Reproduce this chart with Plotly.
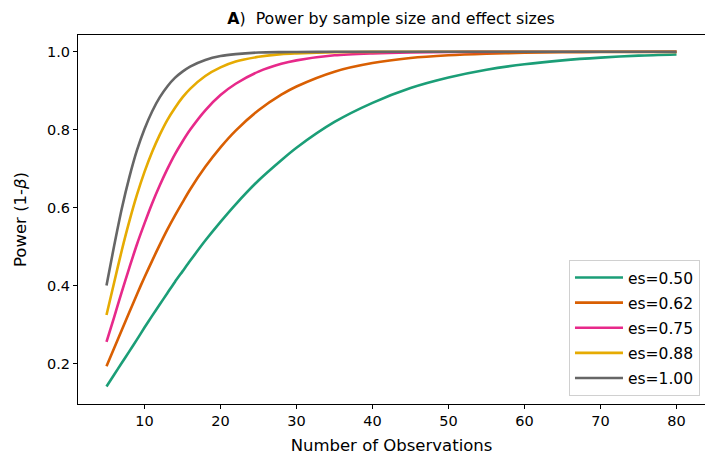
import plotly.graph_objects as go

# Sample sizes (x) and power values
nobs = [5, 6, 7, 8, 9, 10, 11, 12, 13, 14, 15, 16, 18, 20, 22, 25, 28, 30,
        35, 40, 45, 50, 55, 60, 65, 70, 75, 80]

power_050 = [0.142, 0.172, 0.202, 0.232, 0.262, 0.293, 0.323, 0.352, 0.381, 0.410,
             0.437, 0.464, 0.516, 0.564, 0.609, 0.670, 0.722, 0.754,
             0.820, 0.869, 0.907, 0.934, 0.954, 0.968, 0.978, 0.985, 0.990, 0.993]
power_062 = [0.194, 0.240, 0.286, 0.332, 0.378, 0.422, 0.464, 0.505, 0.544, 0.580,
             0.614, 0.647, 0.705, 0.755, 0.798, 0.850, 0.890, 0.911,
             0.949, 0.971, 0.984, 0.991, 0.995, 0.9975, 0.9987, 0.9993, 0.9996, 0.9998]
power_075 = [0.256, 0.319, 0.384, 0.446, 0.506, 0.560, 0.611, 0.657, 0.699, 0.737,
             0.770, 0.800, 0.850, 0.889, 0.918, 0.949, 0.969, 0.978,
             0.991, 0.996, 0.9985, 0.9994, 0.9998, 0.9999, 1.0, 1.0, 1.0, 1.0]
power_088 = [0.325, 0.408, 0.490, 0.565, 0.633, 0.692, 0.743, 0.787, 0.825, 0.856,
             0.883, 0.905, 0.938, 0.960, 0.975, 0.987, 0.994, 0.996,
             0.999, 0.9998, 1.0, 1.0, 1.0, 1.0, 1.0, 1.0, 1.0, 1.0]
power_100 = [0.401, 0.502, 0.597, 0.678, 0.747, 0.802, 0.847, 0.883, 0.911, 0.933,
             0.949, 0.962, 0.979, 0.989, 0.994, 0.998, 0.9992, 0.9996,
             1.0, 1.0, 1.0, 1.0, 1.0, 1.0, 1.0, 1.0, 1.0, 1.0]

labels = ["es=0.50", "es=0.62", "es=0.75", "es=0.88", "es=1.00"]
series = [power_050, power_062, power_075, power_088, power_100]
colors = ["#1b9e77", "#d95f02", "#e7298a", "#e6ab02", "#666666"]

x_ticks = [10, 20, 30, 40, 50, 60, 70, 80]
y_ticks = [0.2, 0.4, 0.6, 0.8, 1.0]

fig = go.Figure()
for i, (lab, ys, col) in enumerate(zip(labels, series, colors)):
    fig.add_trace(go.Scatter(
        x=nobs, y=ys, mode="lines", name=lab, legendgroup=f"g{i}",
        line=dict(color=col, width=2.6, shape="spline", smoothing=0.8),
    ))

font = "DejaVu Sans"
fig.update_layout(
    width=705, height=456,
    margin=dict(l=78, r=0, t=35, b=52),
    paper_bgcolor="white", plot_bgcolor="white",
    font=dict(family=font, size=15, color="black"),
    title=dict(text="<b>A</b>)  Power by sample size and effect sizes",
               x=391 / 705, xanchor="center", y=1 - 18 / 456, yanchor="middle",
               font=dict(size=15.8, family=font, color="black")),
    showlegend=True,
    legend=dict(x=0.992, xanchor="right", y=0.022, yanchor="bottom",
                bgcolor="white", bordercolor="#d0d0d0", borderwidth=1,
                font=dict(size=15.5, family=font, color="black"),
                tracegroupgap=2, itemwidth=48),
)
fig.update_xaxes(range=[1.25, 83.75], tickvals=x_ticks, ticktext=[str(v) for v in x_ticks],
                 showline=True, linecolor="black", linewidth=1, mirror=True,
                 ticks="outside", ticklen=4, tickcolor="black", showgrid=False, zeroline=False,
                 tickfont=dict(size=14.5),
                 title=dict(text="Number of Observations", font=dict(size=16.5), standoff=11))
fig.update_yaxes(range=[0.097, 1.043], tickvals=y_ticks, ticktext=[f"{v:.1f}" for v in y_ticks],
                 showline=True, linecolor="black", linewidth=1, mirror=True,
                 ticks="outside", ticklen=4, tickcolor="black", showgrid=False, zeroline=False,
                 tickfont=dict(size=14.5),
                 title=dict(text="Power (1-<i>β</i>)", font=dict(size=16.5), standoff=16))

fig.write_html("out.html", config={"displayModeBar": False},
               post_script="document.body.style.margin='0';")
